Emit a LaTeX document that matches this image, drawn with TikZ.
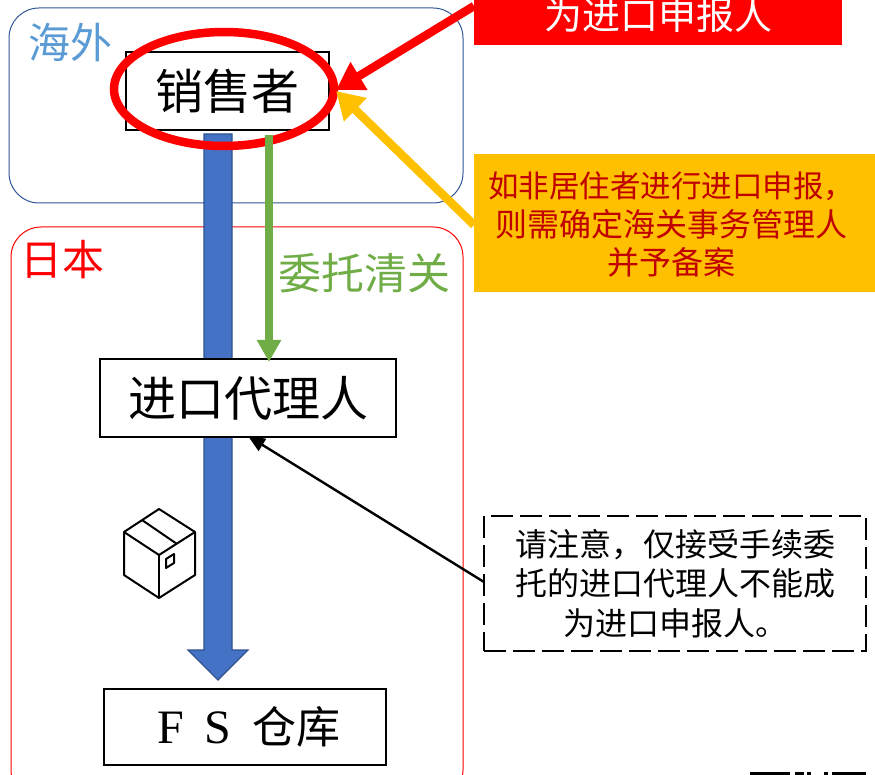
\documentclass[tikz,border=0pt]{standalone}
\usepackage{fontspec}
\setmainfont{Noto Sans CJK SC}
\newfontfamily\cjk{Noto Sans CJK SC}
\newfontfamily\latinserif{Liberation Serif}
\usetikzlibrary{arrows.meta,shapes.geometric}
\definecolor{frameblue}{HTML}{2F5597}
\definecolor{barblue}{HTML}{4472C4}
\definecolor{barrim}{HTML}{2F528F}
\definecolor{skyblue}{HTML}{5B9BD5}
\definecolor{leaf}{HTML}{70AD47}
\definecolor{amber}{HTML}{FFC000}
\definecolor{darkred}{HTML}{C00000}
\newcommand{\zh}[2]{\cjk\fontsize{#1}{#2}\selectfont}
\tikzset{
  x=1pt,y=-1pt,
  region/.style={draw,line width=1pt,rounded corners=30pt,fill=none},
  party/.style={draw=black,line width=2.6pt,fill=white,inner sep=0pt,anchor=center},
  note/.style={inner sep=0pt,anchor=center,align=center},
  pointer/.style={line width=8.5pt,-{Triangle[length=27pt,width=31pt]}},
}
\begin{document}
\begin{tikzpicture}
\useasboundingbox (0,0) rectangle (875,775);
\clip (0,0) rectangle (875,775);
\draw[region,draw=frameblue] (9,8) rectangle (463,203);
\draw[region,draw=red] (11,227) rectangle (463,800);
\node[note,text=skyblue,anchor=west,font=\zh{42}{42}] (overseas) at (28,43) {海外};
\node[note,text=red,anchor=west,font=\zh{42}{42}] (japan) at (20,260) {日本};
% big blue arrow
\fill[barblue,draw=barrim,line width=1.2pt] (204,134) -- (232,134) -- (232,650) -- (248,650) -- (218,680) -- (188,650) -- (204,650) -- cycle;
% boxes
\node[party,minimum width=203pt,minimum height=78pt,font=\zh{48}{48}] (seller) at (227.5,91) {\raisebox{-5pt}{销售者}};
\node[party,minimum width=296pt,minimum height=78pt,font=\zh{48}{48}] (agent) at (248,398) {\raisebox{-4pt}{进口代理人}};
\node[party,minimum width=282pt,minimum height=76pt,font=\zh{44}{44}] (fs) at (245,727) {\raisebox{-12pt}{\hspace{8pt}{\latinserif\fontsize{48}{48}\selectfont F\hspace{20pt}S}\hspace{21pt}仓库}};
% ellipse
\node[draw=red,line width=8.5pt,ellipse,minimum width=220pt,minimum height=114pt,inner sep=0pt] (ring) at (224,89) {};
% green arrow
\coordinate (gstart) at (269,135);
\coordinate (gend) at (269,362);
\draw[leaf,line width=8pt,-{Triangle[length=22pt,width=23pt]}] (gstart) -- (gend);
\node[note,text=leaf,font=\zh{43}{43}] (entrust) at (364,273) {委托清关};
% labels
\node[note,fill=red,minimum width=368pt,minimum height=60pt,text=white,font=\zh{38}{38}] (redbox) at (658,15) {为进口申报人};
\node[note,fill=amber,minimum width=401pt,minimum height=138pt] (amberbox) at (674.5,223) {};
\node[note,text=darkred,font=\zh{32}{38.5}] (ambertext) at (671,225) {{\fontsize{30.5}{38.5}\selectfont 如非居住者进行进口申报，}\\则需确定海关事务管理人\\并予备案};
% connectors
\coordinate (redfrom) at (474,6);
\coordinate (redto) at (336,90);
\coordinate (ambfrom) at (474,225);
\coordinate (ambto) at (336,91);
\draw[red,pointer] (redfrom) -- (redto);
\draw[amber,pointer] (ambfrom) -- (ambto);
% dashed note
\node[note,draw=black,line width=2.8pt,dash pattern=on 22pt off 7pt,minimum width=382pt,minimum height=135pt,font=\zh{32}{39.5}] (caution) at (675,583.5) {请注意，仅接受手续委\\托的进口代理人不能成\\为进口申报人。};
\coordinate (cautionfrom) at (484,582);
\coordinate (agentpoint) at (248,436);
\draw[black,line width=2.4pt,-{Triangle[length=17pt,width=14pt]}] (cautionfrom) -- (agentpoint);
% package icon
\begin{scope}[line width=2pt,line join=round,draw=black]
\draw (159,509) -- (195,532) -- (195,575) -- (159,598) -- (124,575) -- (124,532) -- cycle;
\draw (124,532) -- (159,555) -- (195,532);
\draw (159,555) -- (159,598);
\draw (142,520) -- (177,544);
\draw (166,559) -- (174,554) -- (174,563) -- (166,568) -- cycle;
\end{scope}
% clipped remains at lower right
\fill[black] (750,772) rectangle (790,775);
\fill (795,772) rectangle (804,775);
\fill (807,772) rectangle (811,775);
\fill (824,772) rectangle (828,775);
\fill (832,772) rectangle (866,775);
\end{tikzpicture}
\end{document}
